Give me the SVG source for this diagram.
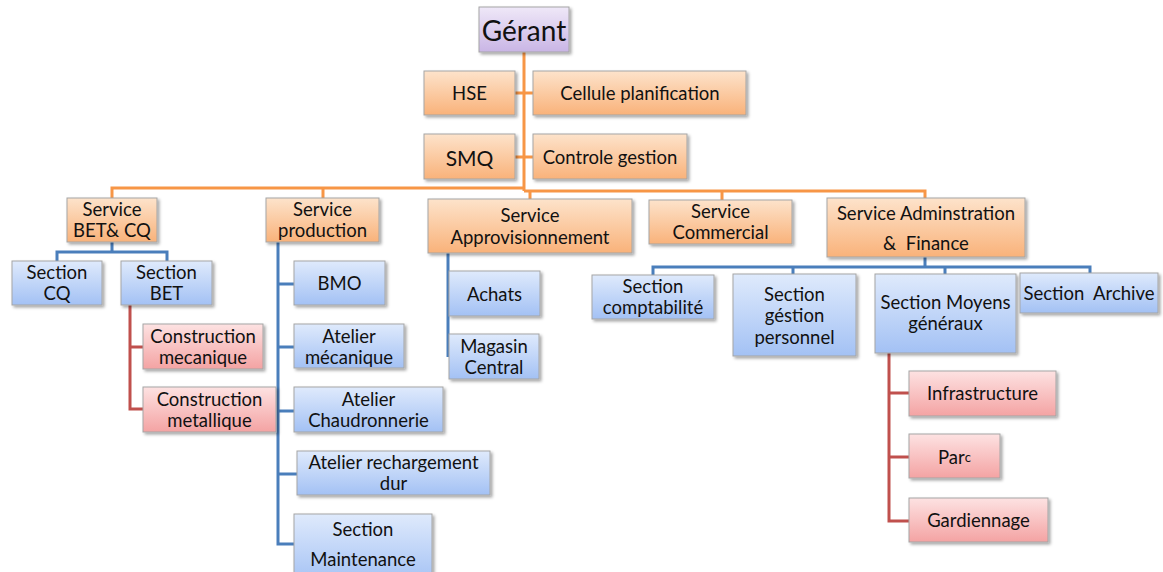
<svg xmlns="http://www.w3.org/2000/svg" width="1163" height="572" viewBox="0 0 1163 572">
  <defs>
    <linearGradient id="gOrange" x1="0" y1="0" x2="0" y2="1">
      <stop offset="0" stop-color="#fde3cb"/>
      <stop offset="1" stop-color="#f9b27a"/>
    </linearGradient>
    <linearGradient id="gBlue" x1="0" y1="0" x2="0" y2="1">
      <stop offset="0" stop-color="#dfeafc"/>
      <stop offset="1" stop-color="#a3c1f4"/>
    </linearGradient>
    <linearGradient id="gRed" x1="0" y1="0" x2="0" y2="1">
      <stop offset="0" stop-color="#fde2e2"/>
      <stop offset="1" stop-color="#f4a3a3"/>
    </linearGradient>
    <linearGradient id="gViolet" x1="0" y1="0" x2="0" y2="1">
      <stop offset="0" stop-color="#efe8f8"/>
      <stop offset="1" stop-color="#c9b5e5"/>
    </linearGradient>
    <filter id="shadow" x="-10%" y="-10%" width="125%" height="135%">
      <feDropShadow dx="2" dy="2" stdDeviation="1.4" flood-color="#000" flood-opacity="0.35"/>
    </filter>
  </defs>
  <style>
    .box { stroke: #a5a5a5; stroke-width: 1; filter: url(#shadow); }
    .o { fill: url(#gOrange); }
    .b { fill: url(#gBlue); }
    .r { fill: url(#gRed); }
    .v { fill: url(#gViolet); }
    text { font-family: Lato, "Open Sans", sans-serif; font-size: 18.5px; fill: #111; text-anchor: middle; dominant-baseline: central; white-space: pre; }
    .big { font-size: 28px; }
    .mid { font-size: 21px; }
    .ln { fill: none; stroke-width: 3; stroke-linejoin: miter; stroke-linecap: butt; }
    .lo { stroke: #f79646; }
    .lb { stroke: #4a7ebb; }
    .lr { stroke: #c0504d; }
  </style>
  <rect width="1163" height="572" fill="#ffffff"/>

  <!-- connectors -->
  <g id="connectors">
    <!-- management spine -->
    <path class="ln lo" d="M524 52 V191 M515 93 H533 M515 157 H533"/>
    <path class="ln lo" d="M112 198 V188 H524 M323 188 V198"/>
    <path class="ln lo" d="M524 191 H925 V198 M530 191 V199 M722 191 V200"/>
    <!-- Service BET & CQ -->
    <path class="ln lb" d="M112 242 V252 M57 261 V252 H167 V261"/>
    <path class="ln lr" d="M130 305 V409 H143 M130 347 H143"/>
    <!-- Service production -->
    <path class="ln lb" d="M278 242 V544 H294 M278 284 H294 M278 347 H294 M278 411 H294 M278 474 H297"/>
    <!-- Service Approvisionnement -->
    <path class="ln lb" d="M448 253 V357"/>
    <!-- Administration & Finance -->
    <path class="ln lb" d="M925 257 V267 M653 275 V267 H1090 V273 M793 267 V274 M945 267 V274"/>
    <path class="ln lr" d="M889 353 V521 H909 M889 393 H909 M889 457 H909"/>
  </g>

  <g id="gerant"><rect class="box v" x="479" y="7" width="90" height="45"/><text class="big" x="524" y="30">Gérant</text></g>
  <g id="hse"><rect class="box o" x="424" y="71" width="91" height="44"/><text x="469.5" y="93">HSE</text></g>
  <g id="cellule-planification"><rect class="box o" x="533" y="71" width="213" height="44"/><text x="640" y="93">Cellule planification</text></g>
  <g id="smq"><rect class="box o" x="424" y="134" width="91" height="45"/><text class="mid" x="469.5" y="157">SMQ</text></g>
  <g id="controle-gestion"><rect class="box o" x="533" y="134" width="154" height="45"/><text x="610" y="157">Controle gestion</text></g>

  <g id="service-bet-cq"><rect class="box o" x="67" y="198" width="90" height="44"/><text x="112" y="209">Service</text><text x="112" y="230">BET&amp; CQ</text></g>
  <g id="service-production"><rect class="box o" x="266" y="198" width="113" height="44"/><text x="322.5" y="209">Service</text><text x="322.5" y="230">production</text></g>
  <g id="service-approvisionnement"><rect class="box o" x="428" y="199" width="204" height="54"/><text x="530" y="215">Service</text><text x="530" y="237">Approvisionnement</text></g>
  <g id="service-commercial"><rect class="box o" x="649" y="200" width="143" height="44"/><text x="720.5" y="211">Service</text><text x="720.5" y="232">Commercial</text></g>
  <g id="service-administration"><rect class="box o" x="827" y="198" width="198" height="59"/><text x="926" y="213">Service Adminstration</text><text x="926" y="243">&amp;  Finance</text></g>

  <g id="section-cq"><rect class="box b" x="12" y="261" width="90" height="44"/><text x="57" y="272">Section</text><text x="57" y="293">CQ</text></g>
  <g id="section-bet"><rect class="box b" x="121" y="261" width="91" height="44"/><text x="166.5" y="272">Section</text><text x="166.5" y="293">BET</text></g>
  <g id="construction-mecanique"><rect class="box r" x="143" y="324" width="120" height="45"/><text x="203" y="336">Construction</text><text x="203" y="357">mecanique</text></g>
  <g id="construction-metallique"><rect class="box r" x="143" y="387" width="133" height="45"/><text x="209.5" y="399">Construction</text><text x="209.5" y="420">metallique</text></g>

  <g id="bmo"><rect class="box b" x="294" y="261" width="91" height="44"/><text x="339.5" y="283">BMO</text></g>
  <g id="atelier-mecanique"><rect class="box b" x="294" y="324" width="110" height="44"/><text x="349" y="336">Atelier</text><text x="349" y="357">mécanique</text></g>
  <g id="atelier-chaudronnerie"><rect class="box b" x="294" y="387" width="149" height="45"/><text x="368.5" y="399">Atelier</text><text x="368.5" y="420">Chaudronnerie</text></g>
  <g id="atelier-rechargement"><rect class="box b" x="297" y="451" width="193" height="44"/><text x="393.5" y="462">Atelier rechargement</text><text x="393.5" y="483">dur</text></g>
  <g id="section-maintenance"><rect class="box b" x="294" y="514" width="138" height="70"/><text x="363" y="529">Section</text><text x="363" y="559">Maintenance</text></g>

  <g id="achats"><rect class="box b" x="449" y="271" width="91" height="45"/><text x="494.5" y="294">Achats</text></g>
  <g id="magasin-central"><rect class="box b" x="449" y="334" width="90" height="45"/><text x="494" y="346">Magasin</text><text x="494" y="367">Central</text></g>

  <g id="section-comptabilite"><rect class="box b" x="592" y="275" width="122" height="44"/><text x="653" y="286">Section</text><text x="653" y="307">comptabilité</text></g>
  <g id="section-gestion-personnel"><rect class="box b" x="733" y="274" width="123" height="82"/><text x="794.5" y="294">Section</text><text x="794.5" y="315">géstion</text><text x="794.5" y="337">personnel</text></g>
  <g id="section-moyens-generaux"><rect class="box b" x="875" y="274" width="141" height="79"/><text x="945.5" y="302">Section Moyens</text><text x="945.5" y="323">généraux</text></g>
  <g id="section-archive"><rect class="box b" x="1020" y="273" width="138" height="40"/><text x="1089" y="293">Section  Archive</text></g>

  <g id="infrastructure"><rect class="box r" x="909" y="371" width="147" height="45"/><text x="982.5" y="393">Infrastructure</text></g>
  <g id="parc"><rect class="box r" x="909" y="434" width="91" height="44"/><text x="954.5" y="457">Par<tspan font-size="13">c</tspan></text></g>
  <g id="gardiennage"><rect class="box r" x="909" y="498" width="139" height="44"/><text x="978.5" y="520">Gardiennage</text></g>
</svg>
